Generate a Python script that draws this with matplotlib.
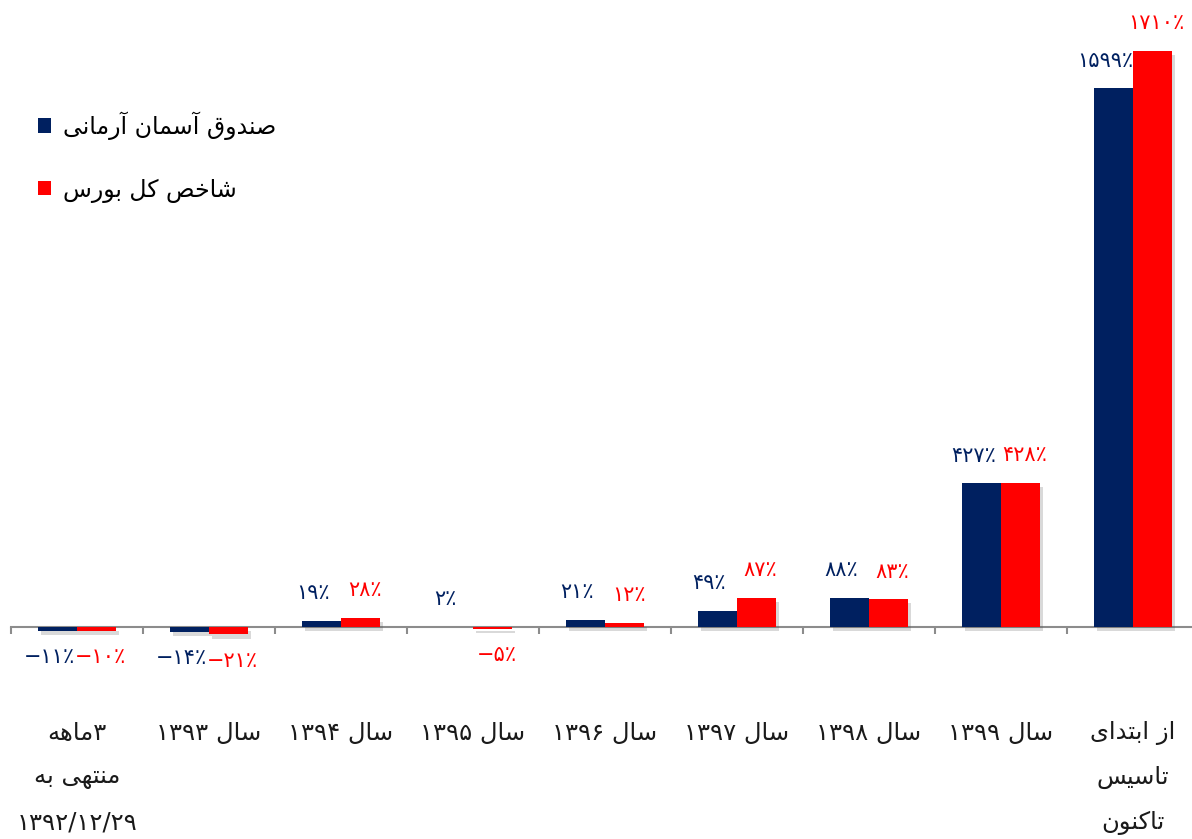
import re
import matplotlib
matplotlib.use("Agg")
import matplotlib.pyplot as plt
import matplotlib.patheffects as pe
from matplotlib.patches import Patch
import numpy as np

# data
categories = [
    "۳ماهه\nمنتهی به\n۱۳۹۲/۱۲/۲۹",
    "سال ۱۳۹۳",
    "سال ۱۳۹۴",
    "سال ۱۳۹۵",
    "سال ۱۳۹۶",
    "سال ۱۳۹۷",
    "سال ۱۳۹۸",
    "سال ۱۳۹۹",
    "از ابتدای\nتاسیس\nتاکنون",
]
fund = [-11, -14, 19, 2, 21, 49, 88, 427, 1599]
index = [-10, -21, 28, -5, 12, 87, 83, 428, 1710]
series_names = ["صندوق آسمان آرمانی", "شاخص کل بورس"]

NAVY = "#002060"
RED = "#FF0000"

# simple Persian shaping (presentation forms) + visual reordering
FORMS = {
    'ا': ('\uFE8D', '\uFE8E', None, None),
    'آ': ('\uFE81', '\uFE82', None, None),
    'ب': ('\uFE8F', '\uFE90', '\uFE91', '\uFE92'),
    'ت': ('\uFE95', '\uFE96', '\uFE97', '\uFE98'),
    'خ': ('\uFEA5', '\uFEA6', '\uFEA7', '\uFEA8'),
    'د': ('\uFEA9', '\uFEAA', None, None),
    'ر': ('\uFEAD', '\uFEAE', None, None),
    'ز': ('\uFEAF', '\uFEB0', None, None),
    'س': ('\uFEB1', '\uFEB2', '\uFEB3', '\uFEB4'),
    'ش': ('\uFEB5', '\uFEB6', '\uFEB7', '\uFEB8'),
    'ص': ('\uFEB9', '\uFEBA', '\uFEBB', '\uFEBC'),
    'ق': ('\uFED5', '\uFED6', '\uFED7', '\uFED8'),
    'ک': ('\uFB8E', '\uFB8F', '\uFB90', '\uFB91'),
    'ل': ('\uFEDD', '\uFEDE', '\uFEDF', '\uFEE0'),
    'م': ('\uFEE1', '\uFEE2', '\uFEE3', '\uFEE4'),
    'ن': ('\uFEE5', '\uFEE6', '\uFEE7', '\uFEE8'),
    'ه': ('\uFEE9', '\uFEEA', '\uFEEB', '\uFEEC'),
    'و': ('\uFEED', '\uFEEE', None, None),
    'ی': ('\uFBFC', '\uFBFD', '\uFBFE', '\uFBFF'),
}


def fa_line(text):
    out = []
    n = len(text)
    for i, c in enumerate(text):
        if c not in FORMS:
            out.append(c)
            continue
        f = FORMS[c]
        prev = text[i - 1] if i > 0 else ''
        nxt = text[i + 1] if i < n - 1 else ''
        jp = prev in FORMS and FORMS[prev][2] is not None
        jn = f[2] is not None and nxt in FORMS
        if jp and jn:
            out.append(f[3])
        elif jp:
            out.append(f[1])
        elif jn:
            out.append(f[2])
        else:
            out.append(f[0])
    s = ''.join(out)[::-1]
    return re.sub(r'[۰-۹0-9/]+', lambda m: m.group(0)[::-1], s)


def fa(text):
    return "\n".join(fa_line(t) for t in text.split("\n"))


def pct(v):
    digits = str(abs(v)).translate(str.maketrans("0123456789", "۰۱۲۳۴۵۶۷۸۹"))
    return ("−" if v < 0 else "") + digits + "٪"


plt.rcParams['font.family'] = ['DejaVu Sans']

fig = plt.figure(figsize=(11.92, 8.39), dpi=100)
ax = fig.add_axes([11 / 1192, 178 / 839, 1188 / 1192, 661 / 839])

x = np.arange(len(categories))
w = 0.295
shadow = [pe.SimplePatchShadow(offset=(2, -3), shadow_rgbFace="#555555", alpha=0.22), pe.Normal()]
b1 = ax.bar(x - w / 2, fund, w, color=NAVY, path_effects=shadow, zorder=3)
b2 = ax.bar(x + w / 2, index, w, color=RED, path_effects=shadow, zorder=3)

for bars, vals, col, dx in [(b1, fund, NAVY, -6), (b2, index, RED, 3)]:
    for r, v in zip(bars, vals):
        cx = r.get_x() + r.get_width() / 2
        off = 20 if v >= 0 else -19
        ax.annotate(pct(v), (cx, v), xytext=(dx, off), textcoords="offset points",
                    ha="center", va="center", fontsize=15, color=col)

ax.set_xlim(-0.5, len(categories) - 0.5)
ax.set_ylim(-100, 1861)
for s in ["left", "right", "top"]:
    ax.spines[s].set_visible(False)
ax.spines["bottom"].set_position(("data", 0))
ax.spines["bottom"].set_color("#8c8c8c")
ax.spines["bottom"].set_linewidth(1.5)
ax.set_yticks([])
ax.set_xticks(np.arange(len(categories) + 1) - 0.5)
ax.set_xticklabels([])
ax.tick_params(axis="x", direction="out", length=5, width=1.5, color="#8c8c8c")

# category labels below the chart
line_y = [106 / 839, 62 / 839, 16 / 839]
trans = matplotlib.transforms.blended_transform_factory(ax.transData, fig.transFigure)
for xi, lab in zip(x, categories):
    for k, line in enumerate(lab.split("\n")):
        ax.text(xi, line_y[k], fa(line), transform=trans, ha="center", va="center",
                fontsize=17.5, color="#1a1a1a", clip_on=False)

handles = [Patch(facecolor=NAVY), Patch(facecolor=RED)]
fig.legend(handles, [fa(n) for n in series_names], loc="upper left",
           bbox_to_anchor=(17 / 1192, 1 - 90 / 839), frameon=False, fontsize=17,
           handlelength=0.55, handleheight=0.55, handletextpad=0.5, labelspacing=1.6)

fig.savefig("out.png", dpi=100)
